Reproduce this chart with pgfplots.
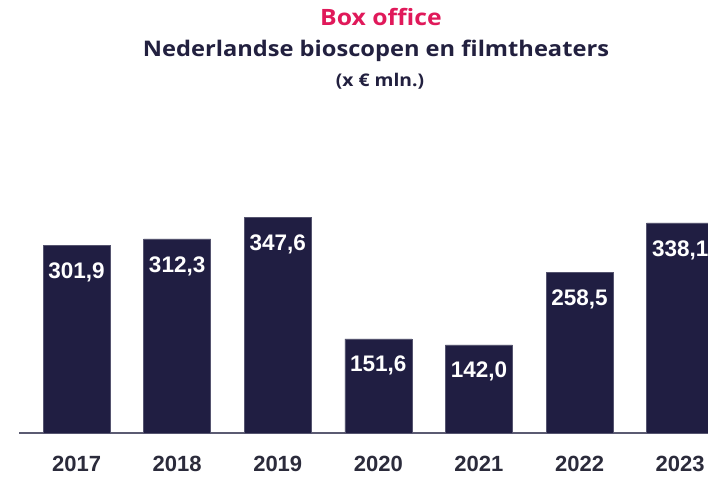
\documentclass[border=0pt]{standalone}
\usepackage{fontspec}
\setmainfont{Liberation Sans}
\newfontfamily\titlefont[FakeStretch=1.1]{Open Sans}
\usepackage{pgfplots}
\pgfplotsset{compat=1.18}
\definecolor{barcol}{HTML}{201E42}
\definecolor{baredge}{HTML}{55546F}
\definecolor{pinkc}{HTML}{E0195A}
\definecolor{navy}{HTML}{22203F}
\definecolor{yearcol}{HTML}{2B2B3B}
\definecolor{axcol}{HTML}{5B5B72}
\begin{document}
\begin{tikzpicture}[x=1pt,y=1pt]
\begin{axis}[
  at={(19pt,44pt)}, anchor=south west,
  x=100.6pt, y=0.6214pt,
  xmin=-0.572, xmax=6.6, ymin=0, ymax=400,
  clip=false,
  ybar, bar width=67pt,
  axis x line=bottom, axis y line=none,
  axis line style={axcol, line width=1.4pt, -},
  xtick={0,1,2,3,4,5,6},
  xticklabels={2017,2018,2019,2020,2021,2022,2023},
  major tick length=0pt,
  xtick style={draw=none},
  ytick=\empty,
  xticklabel style={anchor=base, yshift=-38pt, text=yearcol, font=\fontsize{22}{24}\selectfont\bfseries},
  nodes near coords,
  nodes near coords style={text=white, anchor=center, yshift=-27pt, font=\fontsize{22.5}{24}\selectfont\bfseries,
    /pgf/number format/.cd, fixed, fixed zerofill, precision=1, use comma, 1000 sep={}, assume math mode=true},
]
\addplot[fill=barcol, draw=baredge, line width=0.5pt] coordinates {
  (0,301.9) (1,312.3) (2,347.6) (3,151.6) (4,142.0) (5,258.5) (6,338.1)
};
\end{axis}
\node[anchor=base, text=pinkc, font=\titlefont\fontsize{22.5}{26}\selectfont\bfseries] at (381,451) {Box office};
\node[anchor=base, text=navy, font=\titlefont\fontsize{21.5}{26}\selectfont\bfseries] at (376,420) {Nederlandse bioscopen en filmtheaters};
\node[anchor=base, text=navy, font=\titlefont\fontsize{17.5}{20}\selectfont\bfseries] at (380,390) {(x € mln.)};
\pgfresetboundingbox
\path[use as bounding box] (0,0) rectangle (708,477);
\end{tikzpicture}
\end{document}
